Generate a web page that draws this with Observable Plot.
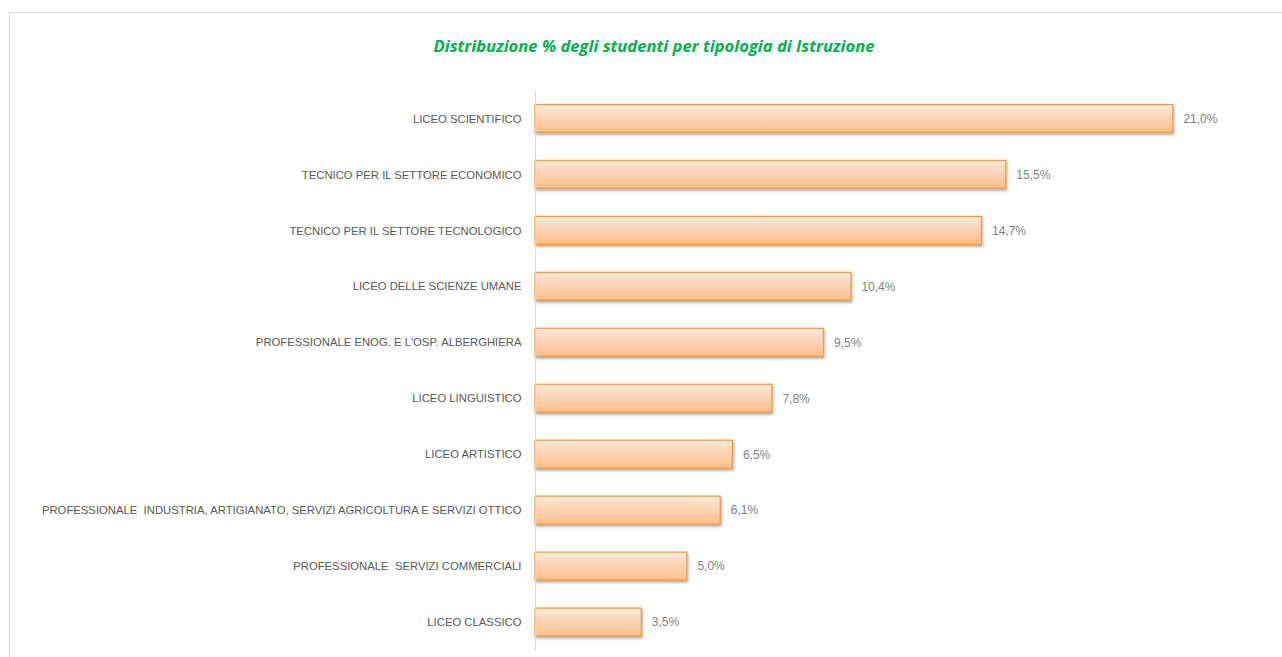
<!DOCTYPE html>
<html>
<head>
<meta charset="utf-8">
<script src="https://cdn.jsdelivr.net/npm/d3@7"></script>
<script src="https://cdn.jsdelivr.net/npm/@observablehq/plot@0.6"></script>
<style>
  html, body { margin: 0; padding: 0; background: #fff; }
  body { width: 1282px; height: 657px; overflow: hidden; position: relative; }
  #frame { position: absolute; left: 9px; top: 12px; width: 1290px; height: 700px; border: 1px solid #d9d9d9; border-right: none; box-sizing: border-box; }
  #title { position: absolute; left: 0; top: 34px; width: 1308px; text-align: center; font-family: "Open Sans", sans-serif; font-weight: bold; font-style: italic; font-size: 16.6px; color: #00b050; }
  #chart { position: absolute; left: 0; top: 80px; }
</style>
</head>
<body>
<div id="frame"></div>
<div id="title">Distribuzione % degli studenti per tipologia di Istruzione</div>
<div id="chart"></div>
<script>
const categories = [
  "LICEO SCIENTIFICO",
  "TECNICO PER IL SETTORE ECONOMICO",
  "TECNICO PER IL SETTORE TECNOLOGICO",
  "LICEO DELLE SCIENZE UMANE",
  "PROFESSIONALE ENOG. E L'OSP. ALBERGHIERA",
  "LICEO LINGUISTICO",
  "LICEO ARTISTICO",
  "PROFESSIONALE  INDUSTRIA, ARTIGIANATO, SERVIZI AGRICOLTURA E SERVIZI OTTICO",
  "PROFESSIONALE  SERVIZI COMMERCIALI",
  "LICEO CLASSICO"
];
const values = [21.0, 15.5, 14.7, 10.4, 9.5, 7.8, 6.5, 6.1, 5.0, 3.5];

const data = categories.map((c, i) => ({category: c, value: values[i]}));
const fmt = v => v.toFixed(1).replace(".", ",") + "%";

const plot = Plot.plot({
  width: 1282,
  height: 577,
  marginLeft: 535,
  marginRight: 18,
  marginTop: 10.5,
  marginBottom: 7,
  style: { fontFamily: "'Liberation Sans', sans-serif", fontSize: "11.3px", color: "#595959", background: "transparent" },
  x: { domain: [0, 24], axis: null },
  y: { domain: categories, paddingInner: 0.5, paddingOuter: 0.25, round: false, label: null },
  marks: [
    Plot.barX(data, {
      x: "value", y: "category",
      fill: "url(#barGrad)", stroke: "#f79646", strokeWidth: 1.2
    }),
    Plot.ruleX([0], { stroke: "#d9d9d9", strokeWidth: 1 }),
    Plot.axisY({ tickSize: 0, tickPadding: 14, fill: "#595959", fontSize: 11.3, label: null }),
    Plot.text(data, {
      x: "value", y: "category", text: d => fmt(d.value),
      dx: 10, textAnchor: "start", fill: "#7f7f7f", fontSize: 12
    })
  ]
});

const svg = d3.select(plot);
const defs = svg.insert("defs", ":first-child");
const g = defs.append("linearGradient").attr("id", "barGrad").attr("x1", 0).attr("y1", 0).attr("x2", 0).attr("y2", 1);
g.append("stop").attr("offset", "0%").attr("stop-color", "#fde9d9");
g.append("stop").attr("offset", "100%").attr("stop-color", "#fbbf8b");
const f = defs.append("filter").attr("id", "shadow").attr("x", "-5%").attr("y", "-20%").attr("width", "110%").attr("height", "160%");
f.append("feDropShadow").attr("dx", 1).attr("dy", 2).attr("stdDeviation", 1.2).attr("flood-color", "#000").attr("flood-opacity", 0.3);
svg.selectAll("g[aria-label='bar'] rect").attr("filter", "url(#shadow)");

document.getElementById("chart").appendChild(plot);
</script>
</body>
</html>
